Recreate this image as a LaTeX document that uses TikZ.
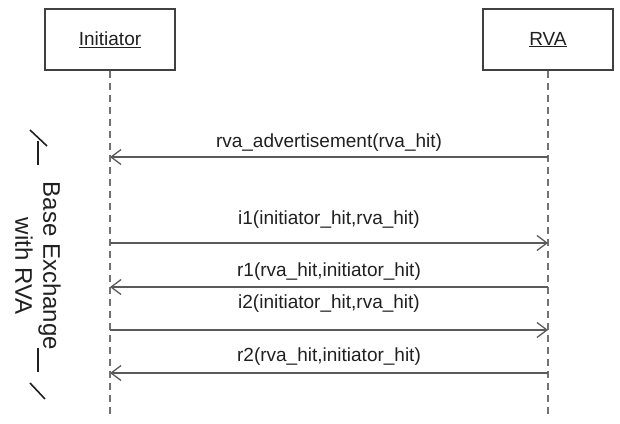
\documentclass[tikz,border=0pt]{standalone}
\usepackage{fontspec}
\setmainfont{Liberation Sans}
\usetikzlibrary{arrows.meta,positioning,calc}
\definecolor{linegray}{HTML}{5A5A5A}
\definecolor{boxgray}{HTML}{404040}
\definecolor{textgray}{HTML}{202020}
\tikzset{
  actorbox/.style={draw=boxgray,line width=1.3pt,minimum width=130pt,minimum height=61pt,
    inner sep=0pt,text=textgray,font=\fontsize{19}{23}\selectfont},
  lifeline/.style={draw=linegray!85,line width=1.4pt,dash pattern=on 7pt off 5pt},
  msgarrow/.style={-{Straight Barb[length=10pt,width=15pt,line width=1.3pt]},draw=linegray,line width=1.5pt},
  msglabel/.style={inner sep=0pt,text=textgray,font=\fontsize{19}{23}\selectfont},
  notelabel/.style={inner sep=0pt,text=textgray,align=center,font=\fontsize{24}{28}\selectfont},
  notemark/.style={draw=textgray,line width=1.6pt}
}
\begin{document}
\begin{tikzpicture}[x=1pt,y=-1pt]
  \useasboundingbox (0,0) rectangle (620,423);
  % participants and their lifelines
  \node[actorbox] (init) at (110,39.5) {\underline{Initiator}};
  \node[actorbox] (rva) at (548,39.5) {\underline{RVA}};
  \coordinate (initend) at (init |- 0,418);
  \coordinate (rvaend) at (rva |- 0,418);
  \draw[lifeline] (init.south) -- (initend);
  \draw[lifeline] (rva.south) -- (rvaend);
  % message end points on the lifelines
  \coordinate (adv-i) at (init |- 0,157); \coordinate (adv-r) at (rva |- 0,157);
  \coordinate (i1-i) at (init |- 0,243);  \coordinate (i1-r) at (rva |- 0,243);
  \coordinate (r1-i) at (init |- 0,287);  \coordinate (r1-r) at (rva |- 0,287);
  \coordinate (i2-i) at (init |- 0,330);  \coordinate (i2-r) at (rva |- 0,330);
  \coordinate (r2-i) at (init |- 0,373);  \coordinate (r2-r) at (rva |- 0,373);
  % messages
  \draw[msgarrow] (adv-r) -- node[msglabel,above=5pt] (advlbl) {rva\_advertisement(rva\_hit)} (adv-i);
  \draw[msgarrow] (i1-i) -- node[msglabel,above=14pt] (i1lbl) {i1(initiator\_hit,rva\_hit)} (i1-r);
  \draw[msgarrow] (r1-r) -- node[msglabel,above=6pt] (r1lbl) {r1(rva\_hit,initiator\_hit)} (r1-i);
  \draw[msgarrow] (i2-i) -- node[msglabel,above=17pt] (i2lbl) {i2(initiator\_hit,rva\_hit)} (i2-r);
  \draw[msgarrow] (r2-r) -- node[msglabel,above=7pt] (r2lbl) {r2(rva\_hit,initiator\_hit)} (r2-i);
  % side note for the base exchange
  \node[notelabel,rotate=-90] (bexlbl) at (38,266) {Base Exchange\\with RVA};
  \draw[notemark] (30,130) -- (47,146);
  \draw[notemark] (38,141) -- (38,165);
  \draw[notemark] (38,348) -- (38,372);
  \draw[notemark] (30,383) -- (45,399);
\end{tikzpicture}
\end{document}
